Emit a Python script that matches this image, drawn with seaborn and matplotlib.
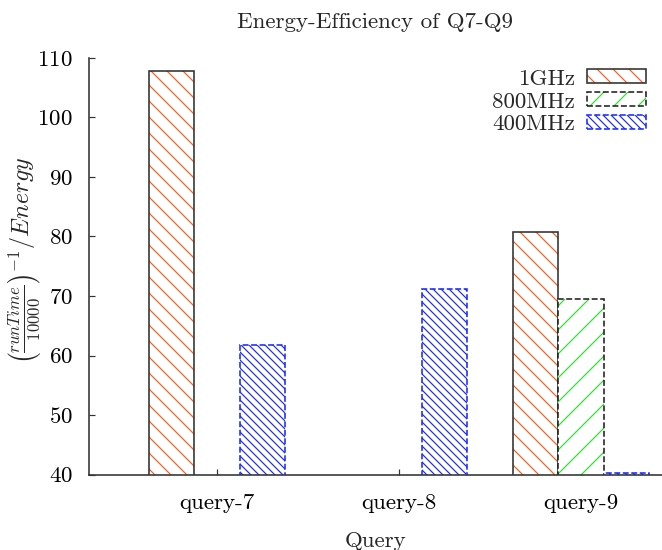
import numpy as np
import pandas as pd
import matplotlib
matplotlib.use('Agg')
import matplotlib.pyplot as plt
import seaborn as sns
from matplotlib.colors import to_rgba

# data (NaN = no bar shown)
queries = ['query-7', 'query-8', 'query-9']
freqs = ['1GHz', '800MHz', '400MHz']
eff_1ghz = [107.8, np.nan, 80.7]
eff_800mhz = [np.nan, np.nan, 69.5]
eff_400mhz = [61.8, 71.1, 40.3]

df = pd.DataFrame({
    'Query': queries * 3,
    'Freq': [f for f in freqs for _ in queries],
    'Eff': eff_1ghz + eff_800mhz + eff_400mhz,
})

sns.set_style('white')
plt.rcParams['font.family'] = ['cmr10', 'DejaVu Serif']
plt.rcParams['mathtext.fontset'] = 'cm'
plt.rcParams['axes.formatter.use_mathtext'] = True
plt.rcParams['axes.unicode_minus'] = False
plt.rcParams['hatch.linewidth'] = 0.6

hatch_colors = ['#ff5a1a', '#2ee02e', '#1a2aff']
hatches = ['\\\\\\', '//', '\\\\\\\\\\\\']
edge_colors = ['#303030', '#202020', '#1a2aff']
edge_styles = ['-', '--', '--']

fig = plt.figure(figsize=(662 / 144, 550 / 144), dpi=144)
ax = fig.add_axes([0.134, 0.137, 0.866, 0.758])

sns.barplot(data=df, x='Query', y='Eff', hue='Freq', hue_order=freqs,
            order=queries, width=0.75, fill=True, legend=False, ax=ax,
            errorbar=None)

for cont, hc, h, ec, ls in zip(ax.containers, hatch_colors, hatches, edge_colors, edge_styles):
    for p in cont.patches:
        p.set_facecolor('white')
        p.set_edgecolor(ec)
        p.set_linewidth(0.8)
        p.set_linestyle(ls)
        p.set_hatch(h)
        p._hatch_color = to_rgba(hc)

ax.set_ylim(40, 110)
ax.set_xlim(-0.706, 2.445)
ax.set_yticks(range(40, 111, 10))
ax.tick_params(direction='in', length=3, width=0.6, labelsize=11.5,
               left=True, bottom=True, colors='#333333', labelcolor='black')
ax.tick_params(axis='y', pad=8)
ax.tick_params(axis='x', pad=9.5)
for s in ['top', 'right']:
    ax.spines[s].set_visible(False)
for s in ['left', 'bottom']:
    ax.spines[s].set_color('#333333')
    ax.spines[s].set_linewidth(0.8)

ax.set_title('Energy-Efficiency of Q7-Q9', fontsize=11.5, pad=15)
ax.set_xlabel('Query', fontsize=11.5, labelpad=9)
ax.set_ylabel(r'$\left(\frac{runTime}{10000}\right)^{-1}/Energy$', fontsize=12)
ax.yaxis.set_label_coords(-0.08, 0.515)

handles = [cont.patches[0] for cont in ax.containers]
ax.legend(handles, freqs, loc='upper right', frameon=False, markerfirst=False,
          fontsize=11.5, handlelength=2.6, handleheight=0.55, handletextpad=0.5,
          labelspacing=0.15, bbox_to_anchor=(0.989, 0.995), borderaxespad=0)

fig.savefig('out.png', dpi=144)
